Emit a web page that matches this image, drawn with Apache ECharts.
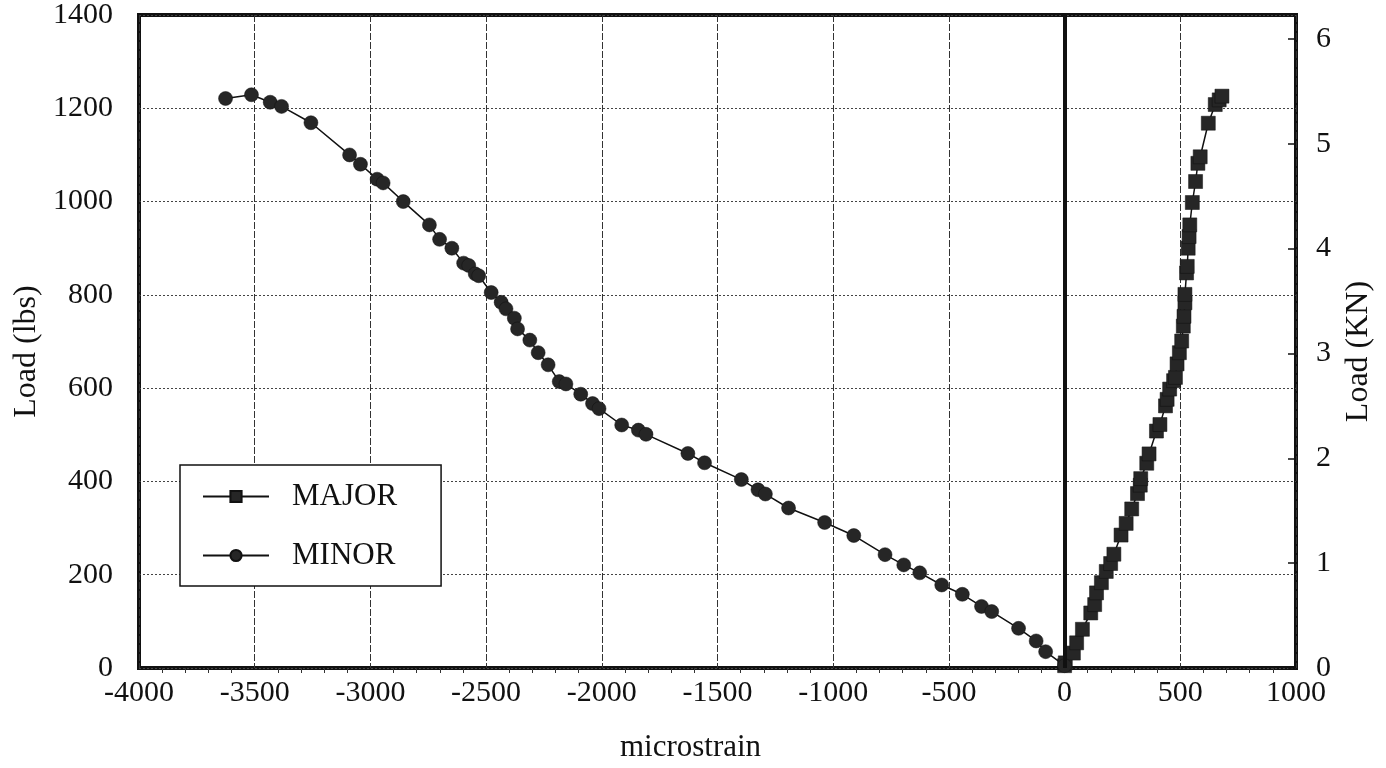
<!DOCTYPE html>
<html>
<head>
<meta charset="utf-8">
<script src="https://cdn.jsdelivr.net/npm/echarts@6/dist/echarts.min.js"></script>
<style>
  html, body { margin: 0; padding: 0; background: #fff; }
  #main { width: 1386px; height: 768px; }
</style>
</head>
<body>
<div id="main"></div>
<script>
var minorStrain = [-3626, -3514, -3433, -3384, -3257, -3090, -3043, -2971, -2945, -2858,
  -2745, -2701, -2648, -2597, -2575, -2547, -2532, -2478, -2435, -2414,
  -2378, -2364, -2311, -2275, -2232, -2184, -2155, -2091, -2040, -2012,
  -1914, -1842, -1809, -1628, -1556, -1397, -1325, -1293, -1193, -1037,
  -911, -776, -695, -626, -531, -442, -359, -315, -199, -123, -82, 0];
var minorLoad = [1221, 1229, 1213, 1204, 1169, 1100, 1080, 1048, 1040, 1000,
  950, 919, 900, 868, 863, 845, 841, 805, 784, 770,
  750, 727, 703, 676, 650, 614, 609, 587, 567, 556,
  521, 510, 501, 460, 440, 404, 382, 373, 343, 312,
  284, 243, 221, 204, 178, 158, 132, 121, 85, 58, 35, 5];

var majorStrain = [0, 3, 38, 52, 77, 113, 130, 138, 159, 180,
  199, 213, 244, 266, 290, 315, 327, 329, 355, 365,
  397, 412, 436, 443, 454, 471, 479, 486, 496, 506,
  513, 516, 520, 520, 527, 530, 534, 538, 541, 552,
  566, 576, 586, 621, 651, 668, 680];
var majorLoad = [5, 11, 32, 54, 83, 118, 136, 161, 183, 207,
  224, 244, 285, 310, 341, 374, 392, 406, 439, 459,
  508, 522, 562, 576, 598, 616, 623, 652, 676, 701,
  733, 754, 783, 801, 847, 861, 900, 925, 950, 998,
  1043, 1082, 1096, 1168, 1208, 1218, 1226];

var xTicks = { min: -4000, max: 1000, step: 500 };
var lbsTicks = { min: 0, max: 1400, step: 200 };
var kNPerLb = 0.0044482;

var chart = echarts.init(document.getElementById('main'));
var font = '"Liberation Serif", "DejaVu Serif", serif';
var ink = '#111';

function pairs(xs, ys) {
  var out = [];
  for (var i = 0; i < xs.length; i++) out.push([xs[i], ys[i]]);
  return out;
}

var option = {
  backgroundColor: '#fff',
  animation: false,
  textStyle: { fontFamily: font, color: ink },
  grid: {
    left: 139, right: 90, top: 15, bottom: 100,
    outerBoundsMode: 'none',
    show: true, borderColor: ink, borderWidth: 4, backgroundColor: 'transparent'
  },
  legend: {
    orient: 'vertical',
    left: 180, top: 465,
    backgroundColor: '#fff',
    borderColor: ink, borderWidth: 1.5,
    padding: [16, 44, 15, 22],
    itemGap: 28,
    itemWidth: 66, itemHeight: 14,
    textStyle: { fontFamily: font, fontSize: 31, color: ink, padding: [0, 0, 0, 18] },
    data: ['MAJOR', 'MINOR']
  },
  xAxis: {
    type: 'value',
    min: xTicks.min, max: xTicks.max, interval: xTicks.step,
    name: 'microstrain',
    nameLocation: 'middle',
    nameGap: 64,
    nameTextStyle: { fontFamily: font, fontSize: 31, color: ink, padding: [0, 54, 0, 0] },
    axisLine: { show: false },
    axisTick: { show: false },
    minorTick: { show: true, splitNumber: 5, length: 5, lineStyle: { color: '#333', width: 1 } },
    axisLabel: {
      margin: 10, fontFamily: font, fontSize: 30, color: ink,
      formatter: function (v) { return String(v); }
    },
    splitLine: { show: true, lineStyle: { color: '#333', width: 1, type: [7, 2] } }
  },
  yAxis: [
    {
      type: 'value',
      min: lbsTicks.min, max: lbsTicks.max, interval: lbsTicks.step,
      name: 'Load (lbs)',
      nameLocation: 'middle',
      nameRotate: 90,
      nameGap: 95,
      nameTextStyle: { fontFamily: font, fontSize: 32, color: ink, padding: [0, 20, 0, 0] },
      axisLine: { show: false },
      axisTick: { show: false },
      axisLabel: {
        margin: 26, fontFamily: font, fontSize: 30, color: ink,
        formatter: function (v) { return String(v); }
      },
      splitLine: { show: true, lineStyle: { color: '#444', width: 1, type: [2, 2] } }
    },
    {
      type: 'value',
      position: 'right',
      min: 0, max: lbsTicks.max * kNPerLb, interval: 1,
      name: 'Load (KN)',
      nameLocation: 'middle',
      nameRotate: 90,
      nameGap: 47,
      nameTextStyle: { fontFamily: font, fontSize: 32, color: ink, padding: [0, 20, 0, 0] },
      axisLine: { show: false },
      axisTick: { show: true, inside: true, length: 8, lineStyle: { color: ink, width: 1.5 } },
      axisLabel: {
        margin: 20, fontFamily: font, fontSize: 30, color: ink,
        showMaxLabel: false,
        formatter: function (v) { return Math.abs(v - Math.round(v)) < 1e-6 ? String(Math.round(v)) : ''; }
      },
      splitLine: { show: false }
    }
  ],
  series: [
    {
      name: 'MAJOR',
      type: 'line',
      data: pairs(majorStrain, majorLoad),
      symbol: 'rect',
      symbolSize: 14,
      itemStyle: { color: '#262626', borderColor: '#111', borderWidth: 0.5 },
      lineStyle: { color: ink, width: 1.5 },
      z: 3,
      markLine: {
        silent: true,
        symbol: ['none', 'none'],
        label: { show: false },
        lineStyle: { color: ink, width: 4, type: 'solid' },
        data: [{ xAxis: 0 }]
      }
    },
    {
      name: 'MINOR',
      type: 'line',
      data: pairs(minorStrain, minorLoad),
      symbol: 'circle',
      symbolSize: 14,
      itemStyle: { color: '#262626', borderColor: '#111', borderWidth: 0.5 },
      lineStyle: { color: ink, width: 1.5 },
      z: 3
    }
  ]
};
chart.setOption(option);
</script>
</body>
</html>
